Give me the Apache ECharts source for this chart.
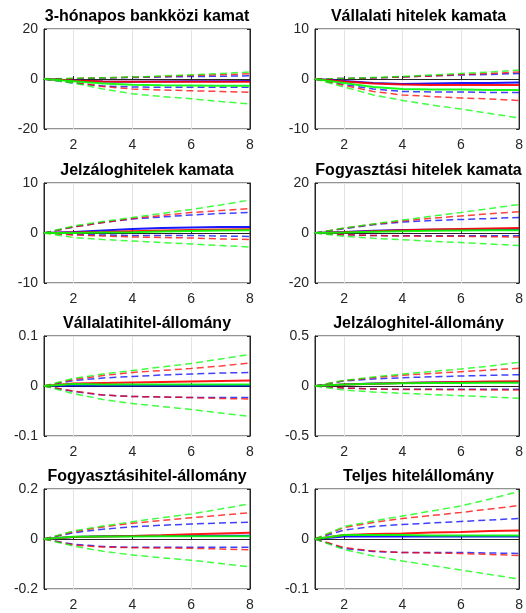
<!DOCTYPE html>
<html><head><meta charset="utf-8">
<script src="https://cdn.jsdelivr.net/npm/echarts@6/dist/echarts.min.js"></script>
<style>html,body{margin:0;padding:0;background:#fff}#c{width:526px;height:613px}</style>
</head><body><div id="c"></div>
<script>
const xCats = ['1','2','3','4','5','6','7','8'];
const titles = ['3-hónapos bankközi kamat','Vállalati hitelek kamata','Jelzáloghitelek kamata','Fogyasztási hitelek kamata','Vállalatihitel-állomány','Jelzáloghitel-állomány','Fogyasztásihitel-állomány','Teljes hitelállomány'];
const yLimits = [20, 10, 10, 20, 0.1, 0.5, 0.2, 0.1];

// Panel 1: 3-hónapos bankközi kamat
const p1BlueMed = [0,-0.6,-1.0,-1.1,-1.0,-0.9,-0.9,-0.8];
const p1BlueUp  = [0,0.1,0.4,0.6,0.8,1.0,1.1,1.3];
const p1BlueLo  = [0,-1.6,-2.8,-3.2,-3.3,-3.3,-3.3,-3.3];
const p1RedMed  = [0,-0.6,-1.0,-1.1,-1.1,-1.1,-1.1,-1.1];
const p1RedUp   = [0,0.2,0.5,0.7,1.0,1.4,1.7,2.1];
const p1RedLo   = [0,-1.3,-3.0,-4.0,-4.4,-4.7,-5.0,-5.3];
const p1GreenMed= [0,-0.9,-1.8,-2.3,-2.5,-2.6,-2.7,-2.7];
const p1GreenUp = [0,0.3,0.5,0.8,1.2,1.7,2.2,2.8];
const p1GreenLo = [0,-1.6,-4.0,-5.9,-7.0,-7.9,-9.0,-10.0];

// Panel 2: Vállalati hitelek kamata
const p2BlueMed = [0,-0.4,-0.8,-1.0,-0.9,-0.8,-0.8,-0.7];
const p2BlueUp  = [0,0.1,0.2,0.4,0.6,0.8,0.9,1.1];
const p2BlueLo  = [0,-1.1,-2.0,-2.5,-2.6,-2.6,-2.7,-2.7];
const p2RedMed  = [0,-0.5,-0.9,-1.1,-1.2,-1.2,-1.2,-1.2];
const p2RedUp   = [0,0.1,0.2,0.4,0.6,0.9,1.1,1.4];
const p2RedLo   = [0,-1.3,-2.5,-3.2,-3.5,-3.8,-4.0,-4.3];
const p2GreenMed= [0,-0.8,-1.6,-2.0,-2.1,-2.1,-2.2,-2.2];
const p2GreenUp = [0,0.1,0.3,0.5,0.8,1.1,1.4,1.8];
const p2GreenLo = [0,-1.6,-3.2,-4.3,-5.2,-6.0,-6.9,-7.8];

// Panel 3: Jelzáloghitelek kamata
const p3BlueMed = [0,0.2,0.5,0.8,1.0,1.1,1.2,1.2];
const p3BlueUp  = [0,1.2,2.1,2.8,3.2,3.6,3.9,4.1];
const p3BlueLo  = [0,-0.3,-0.4,-0.5,-0.5,-0.5,-0.6,-0.7];
const p3RedMed  = [0,0.1,0.2,0.35,0.5,0.6,0.7,0.75];
const p3RedUp   = [0,1.2,2.1,2.9,3.5,4.1,4.5,4.9];
const p3RedLo   = [0,-0.4,-0.6,-0.8,-0.9,-1.0,-1.2,-1.3];
const p3GreenMed= [0,0.0,0.1,0.15,0.3,0.4,0.5,0.55];
const p3GreenUp = [0,1.4,2.3,3.1,3.9,4.7,5.6,6.6];
const p3GreenLo = [0,-0.9,-1.3,-1.6,-1.9,-2.2,-2.5,-2.8];

// Panel 4: Fogyasztási hitelek kamata
const p4BlueMed = [0,0.4,0.9,1.2,1.3,1.4,1.5,1.5];
const p4BlueUp  = [0,1.7,3.3,4.4,5.0,5.4,5.8,6.2];
const p4BlueLo  = [0,-0.7,-1.0,-1.1,-1.1,-1.1,-1.1,-1.1];
const p4RedMed  = [0,0.3,0.7,1.1,1.4,1.6,1.8,2.0];
const p4RedUp   = [0,1.9,3.5,4.8,5.9,6.8,7.7,8.5];
const p4RedLo   = [0,-0.7,-1.0,-1.2,-1.3,-1.3,-1.5,-1.6];
const p4GreenMed= [0,0.2,0.5,0.7,0.9,1.0,1.1,1.1];
const p4GreenUp = [0,2.0,3.6,5.2,6.7,8.2,9.8,11.4];
const p4GreenLo = [0,-1.3,-2.1,-2.7,-3.3,-3.8,-4.4,-5.0];

// Panel 5: Vállalatihitel-állomány
const p5BlueMed = [0,0.001,0.001,0.001,0.001,0.001,0.001,0.001];
const p5BlueUp  = [0,0.011,0.016,0.019,0.022,0.024,0.026,0.027];
const p5BlueLo  = [0,-0.011,-0.018,-0.021,-0.022,-0.023,-0.023,-0.023];
const p5RedMed  = [0,0.005,0.006,0.007,0.008,0.009,0.010,0.011];
const p5RedUp   = [0,0.013,0.021,0.027,0.031,0.035,0.040,0.046];
const p5RedLo   = [0,-0.010,-0.018,-0.021,-0.022,-0.023,-0.025,-0.026];
const p5GreenMed= [0,0.004,0.003,0.003,0.003,0.003,0.003,0.003];
const p5GreenUp = [0,0.015,0.024,0.031,0.038,0.045,0.054,0.063];
const p5GreenLo = [0,-0.015,-0.027,-0.035,-0.041,-0.047,-0.054,-0.061];

// Panel 6: Jelzáloghitel-állomány
const p6BlueMed = [0,0.015,0.025,0.03,0.035,0.037,0.039,0.04];
const p6BlueUp  = [0,0.05,0.07,0.083,0.092,0.1,0.107,0.113];
const p6BlueLo  = [0,-0.02,-0.03,-0.033,-0.033,-0.033,-0.033,-0.033];
const p6RedMed  = [0,0.015,0.023,0.03,0.036,0.04,0.044,0.047];
const p6RedUp   = [0,0.053,0.083,0.107,0.126,0.143,0.16,0.177];
const p6RedLo   = [0,-0.02,-0.03,-0.035,-0.036,-0.037,-0.039,-0.04];
const p6GreenMed= [0,0.015,0.022,0.027,0.03,0.031,0.032,0.033];
const p6GreenUp = [0,0.057,0.09,0.12,0.145,0.17,0.2,0.237];
const p6GreenLo = [0,-0.04,-0.06,-0.073,-0.085,-0.097,-0.11,-0.123];

// Panel 7: Fogyasztásihitel-állomány
const p7BlueMed = [0,0.008,0.011,0.012,0.013,0.013,0.013,0.013];
const p7BlueUp  = [0,0.025,0.039,0.049,0.055,0.06,0.064,0.067];
const p7BlueLo  = [0,-0.021,-0.03,-0.033,-0.033,-0.033,-0.033,-0.033];
const p7RedMed  = [0,0.008,0.01,0.012,0.015,0.019,0.022,0.025];
const p7RedUp   = [0,0.029,0.048,0.063,0.074,0.085,0.095,0.105];
const p7RedLo   = [0,-0.024,-0.032,-0.035,-0.036,-0.037,-0.04,-0.043];
const p7GreenMed= [0,0.009,0.01,0.01,0.011,0.011,0.011,0.011];
const p7GreenUp = [0,0.032,0.052,0.069,0.085,0.1,0.12,0.141];
const p7GreenLo = [0,-0.028,-0.049,-0.064,-0.075,-0.085,-0.098,-0.111];

// Panel 8: Teljes hitelállomány
const p8BlueMed = [0,0.005,0.005,0.005,0.005,0.005,0.005,0.005];
const p8BlueUp  = [0,0.018,0.025,0.029,0.032,0.035,0.038,0.041];
const p8BlueLo  = [0,-0.019,-0.025,-0.027,-0.027,-0.027,-0.028,-0.029];
const p8RedMed  = [0,0.008,0.01,0.011,0.013,0.014,0.016,0.017];
const p8RedUp   = [0,0.023,0.033,0.041,0.047,0.053,0.06,0.067];
const p8RedLo   = [0,-0.017,-0.024,-0.027,-0.028,-0.029,-0.031,-0.033];
const p8GreenMed= [0,0.008,0.008,0.008,0.007,0.007,0.007,0.007];
const p8GreenUp = [0,0.025,0.036,0.046,0.056,0.066,0.08,0.095];
const p8GreenLo = [0,-0.021,-0.034,-0.044,-0.053,-0.062,-0.071,-0.08];

const panels = [
  [[p1BlueMed,p1BlueUp,p1BlueLo],[p1RedMed,p1RedUp,p1RedLo],[p1GreenMed,p1GreenUp,p1GreenLo]],
  [[p2BlueMed,p2BlueUp,p2BlueLo],[p2RedMed,p2RedUp,p2RedLo],[p2GreenMed,p2GreenUp,p2GreenLo]],
  [[p3BlueMed,p3BlueUp,p3BlueLo],[p3RedMed,p3RedUp,p3RedLo],[p3GreenMed,p3GreenUp,p3GreenLo]],
  [[p4BlueMed,p4BlueUp,p4BlueLo],[p4RedMed,p4RedUp,p4RedLo],[p4GreenMed,p4GreenUp,p4GreenLo]],
  [[p5BlueMed,p5BlueUp,p5BlueLo],[p5RedMed,p5RedUp,p5RedLo],[p5GreenMed,p5GreenUp,p5GreenLo]],
  [[p6BlueMed,p6BlueUp,p6BlueLo],[p6RedMed,p6RedUp,p6RedLo],[p6GreenMed,p6GreenUp,p6GreenLo]],
  [[p7BlueMed,p7BlueUp,p7BlueLo],[p7RedMed,p7RedUp,p7RedLo],[p7GreenMed,p7GreenUp,p7GreenLo]],
  [[p8BlueMed,p8BlueUp,p8BlueLo],[p8RedMed,p8RedUp,p8RedLo],[p8GreenMed,p8GreenUp,p8GreenLo]]
];
const colors = ['#0000ff','#ff0000','#00ff00'];

const colLeft = [44, 315];
const colWidth = [206, 207];
const rowTop = [29, 183, 336, 489];
const plotH = 100;
const titleTop = [9, 163, 316, 469];
const FONT = '"Liberation Sans", Arial, Helvetica, sans-serif';
const evenIdx = (i) => i % 2 === 1;

const grid = [], xAxis = [], yAxis = [], title = [], series = [];
for (let k = 0; k < 8; k++) {
  const r = Math.floor(k / 2), c = k % 2;
  grid.push({left: colLeft[c], top: rowTop[r], width: colWidth[c], height: plotH,
    show: true, borderColor: '#262626', borderWidth: 1, backgroundColor: '#fff'});
  title.push({text: titles[k], left: colLeft[c] + colWidth[c] / 2, top: titleTop[r], textAlign: 'center', padding: 0,
    textStyle: {fontFamily: FONT, fontSize: 16, fontWeight: 'bold', color: '#000'}});
  xAxis.push({type: 'category', gridIndex: k, data: xCats, boundaryGap: false,
    axisLine: {lineStyle: {color: '#262626', width: 1}},
    axisTick: {show: true, inside: true, length: 3, interval: evenIdx, lineStyle: {color: '#262626'}},
    axisLabel: {interval: evenIdx, fontFamily: FONT, fontSize: 14, color: '#262626', margin: 9},
    splitLine: {show: true, interval: evenIdx, lineStyle: {color: '#e3e3e3', width: 1}}});
  const L = yLimits[k];
  yAxis.push({type: 'value', gridIndex: k, min: -L, max: L, interval: L,
    axisLine: {show: true, lineStyle: {color: '#262626', width: 1}},
    axisTick: {show: true, inside: true, length: 3, lineStyle: {color: '#262626'}},
    axisLabel: {fontFamily: FONT, fontSize: 14, color: '#262626', margin: 6},
    splitLine: {show: true, lineStyle: {color: '#e3e3e3', width: 1}}});
}
// right-side mirror axes (ticks only)
for (let k = 0; k < 8; k++) {
  const L = yLimits[k];
  yAxis.push({type: 'value', gridIndex: k, position: 'right', min: -L, max: L, interval: L,
    axisLine: {show: true, lineStyle: {color: '#262626', width: 1}},
    axisTick: {show: true, inside: true, length: 3, lineStyle: {color: '#262626'}},
    axisLabel: {show: false}, splitLine: {show: false}});
}
for (let k = 0; k < 8; k++) {
  panels[k].forEach((set, ci) => {
    set.forEach((arr, li) => {
      series.push({type: 'line', xAxisIndex: k, yAxisIndex: k, data: arr, symbol: 'none',
        silent: true, z: li === 0 ? 4 : 3,
        lineStyle: li === 0 ? {color: colors[ci], width: 2, type: 'solid', opacity: 0.9}
                            : {color: colors[ci], width: 1.5, type: [7, 4], opacity: 0.75}});
    });
  });
}

const chart = echarts.init(document.getElementById('c'), null, {renderer: 'canvas'});
chart.setOption({animation: false, backgroundColor: '#fff', title, grid, xAxis, yAxis, series});
</script>
</body></html>
